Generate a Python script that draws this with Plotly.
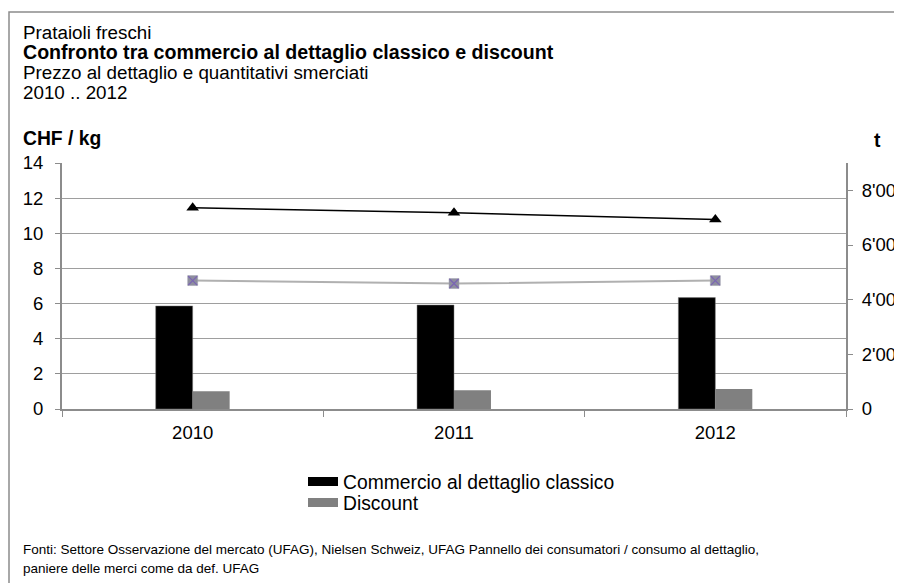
import plotly.graph_objects as go

years = ["2010", "2011", "2012"]
qty_classic = [3770, 3805, 4075]      # t
qty_discount = [650, 690, 735]        # t
price_classic = [11.45, 11.17, 10.78] # CHF/kg
price_discount = [7.31, 7.14, 7.31]   # CHF/kg

left_ticks = [0, 2, 4, 6, 8, 10, 12, 14]
right_ticks = [0, 2000, 4000, 6000, 8000]

FONT = "Liberation Sans, Arial, sans-serif"
GRID = "#9e9e9e"
AXIS = "#8c8c8c"
TICK = 18.5
TXT = 19.3

# the page body adds an 8px offset; figure is sized to fit the window
OFF = 8
FW, FH = 902 - OFF, 583 - OFF
ML, MT = 62 - OFF, 163 - OFF
W, H = 784, 246
MR = FW - ML - W
MB = FH - MT - H
def px(x): return (x - OFF - ML) / W
def py(y): return (FH - MB - (y - OFF)) / H

fig = go.Figure()

fig.add_trace(go.Bar(x=years, y=qty_classic, name="Commercio al dettaglio classico",
                     marker=dict(color="#000000", line=dict(color="#7f7f7f", width=0.5)),
                     yaxis="y2", offsetgroup="a", showlegend=False))
fig.add_trace(go.Bar(x=years, y=qty_discount, name="Discount",
                     marker=dict(color="#808080", line=dict(width=0)),
                     yaxis="y2", offsetgroup="b", showlegend=False))

fig.add_trace(go.Scatter(x=years, y=price_classic, mode="lines+markers", showlegend=False,
                         line=dict(color="#000000", width=1.5),
                         marker=dict(symbol="triangle-up", size=11, color="#000000"),
                         yaxis="y"))
fig.add_trace(go.Scatter(x=years, y=price_discount, mode="lines+markers", showlegend=False,
                         line=dict(color="#b0b0b0", width=2),
                         marker=dict(symbol="square", size=10, color="#8e8e9e",
                                     line=dict(color="#a0a0b0", width=0.5)),
                         yaxis="y"))
fig.add_trace(go.Scatter(x=years, y=price_discount, mode="markers", showlegend=False,
                         marker=dict(symbol="x-thin-open", size=9, color="#7a64b4",
                                     line=dict(color="#7a64b4", width=1.2)),
                         yaxis="y", hoverinfo="skip"))

# legend swatches (wide bars like the original legend)
fig.add_trace(go.Scatter(x=[None], y=[None], mode="lines", name="Commercio al dettaglio classico",
                         line=dict(color="#000000", width=9), legend="legend", showlegend=True))
fig.add_trace(go.Scatter(x=[None], y=[None], mode="lines", name="Discount",
                         line=dict(color="#808080", width=9), legend="legend2", showlegend=True))

leg_common = dict(xanchor="left", yanchor="middle", font=dict(size=TXT, family=FONT),
                  bgcolor="rgba(0,0,0,0)", borderwidth=0)
fig.update_layout(
    width=FW, height=FH,
    margin=dict(l=ML, r=MR, t=MT, b=MB, autoexpand=False),
    paper_bgcolor="white", plot_bgcolor="white",
    font=dict(family=FONT, size=TICK, color="#000000"),
    separators=".'",
    barmode="group", bargap=0.717, bargroupgap=0,
    showlegend=True,
    legend=dict(x=px(303), y=py(482), **leg_common),
    legend2=dict(x=px(303), y=py(503), **leg_common),
    xaxis=dict(type="category", showgrid=False, showline=True, linecolor=AXIS, linewidth=2,
               ticks="outside", tickson="boundaries", ticklen=6, tickcolor=AXIS,
               tickfont=dict(size=TICK), zeroline=False, automargin=False,
               ticklabelstandoff=6),
    yaxis=dict(range=[0, 14], tickvals=left_ticks, showgrid=True, gridcolor=GRID, gridwidth=1,
               showline=True, linecolor=AXIS, linewidth=2, ticks="outside", ticklen=5,
               tickcolor=AXIS, zeroline=False, tickfont=dict(size=TICK), automargin=False,
               ticklabelstandoff=8),
    yaxis2=dict(range=[0, 9000], tickvals=right_ticks, tickformat=",d", overlaying="y",
                side="right", showgrid=False, showline=True, linecolor=AXIS, linewidth=2,
                ticks="outside", ticklen=5, tickcolor=AXIS, zeroline=False,
                tickfont=dict(size=TICK), automargin=False, ticklabelstandoff=5),
)

# outer frame
fig.add_shape(type="rect", xref="paper", yref="paper", x0=px(9), x1=px(960), y0=py(650), y1=py(12),
              line=dict(color="#8c8c8c", width=1.5), fillcolor="rgba(0,0,0,0)", layer="below")

def txt(x, y, s, size=TXT, bold=False, fam=FONT):
    fig.add_annotation(xref="paper", yref="paper", x=px(x), y=py(y), xanchor="left", yanchor="middle",
                       text=(f"<b>{s}</b>" if bold else s), showarrow=False,
                       font=dict(size=size, family=fam, color="#000000"))

txt(21, 32, "Prataioli freschi", size=18.8)
txt(21, 52, "Confronto tra commercio al dettaglio classico e discount", size=19.6, bold=True)
txt(21, 72, "Prezzo al dettaglio e quantitativi smerciati", size=18.8)
txt(21, 92, "2010 .. 2012", size=18.8)
txt(21, 139, "CHF / kg", bold=True)
txt(872, 140, "t", bold=True)
FOOT = "Liberation Sans Narrow, Arial Narrow, Liberation Sans, sans-serif"
txt(21, 549, "Fonti: Settore Osservazione del mercato (UFAG), Nielsen Schweiz, UFAG Pannello dei consumatori / consumo al dettaglio,", size=13.5, fam=FOOT)
txt(21, 568, "paniere delle merci come da def. UFAG", size=13.5, fam=FOOT)

fig.write_html("out.html")
